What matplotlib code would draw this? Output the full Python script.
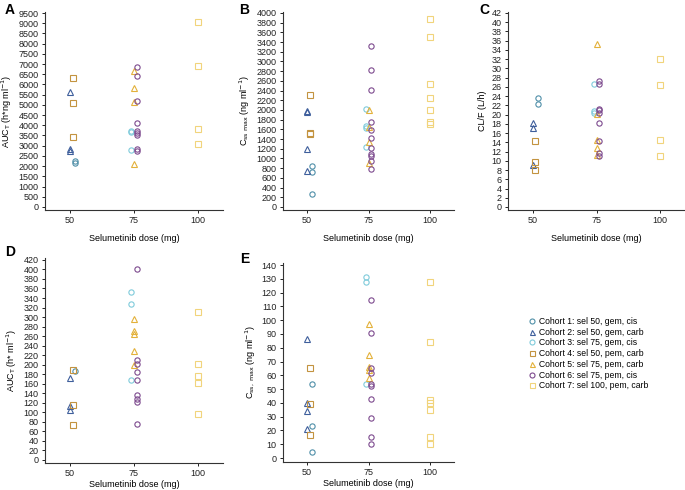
import matplotlib
matplotlib.use("Agg")
import matplotlib.pyplot as plt
from matplotlib.lines import Line2D

plt.rcParams['font.family'] = ['Liberation Sans', 'DejaVu Sans']
plt.rcParams['font.size'] = 6.5

# cohort definitions: label, x position (jittered dose), marker, colour
cohort_labels = ["Cohort 1: sel 50, gem, cis", "Cohort 2: sel 50, gem, carb",
                 "Cohort 3: sel 75, gem, cis", "Cohort 4: sel 50, pem, carb",
                 "Cohort 5: sel 75, pem, carb", "Cohort 6: sel 75, pem, cis",
                 "Cohort 7: sel 100, pem, carb"]
cohort_x = [52, 50, 74, 51, 75, 76, 100]
cohort_markers = ["o", "^", "o", "s", "^", "o", "s"]
cohort_colors = ["#4f8fa8", "#3f5f9c", "#7fcbdb", "#c39340", "#e3b13a", "#7d4a8e", "#f1d47c"]

# panel A: AUC_T selumetinib
auc_sel = [
    [2230, 2130],
    [5650, 2850, 2750],
    [3700, 3650, 2800],
    [6300, 5100, 3450],
    [6650, 5850, 5150, 2100],
    [6880, 6400, 5200, 4100, 3700, 3600, 3500, 2850, 2750],
    [9050, 6900, 3800, 3100],
]
# panel B: Css max selumetinib
cmax_sel = [
    [850, 720, 260],
    [1980, 1960, 1200, 750],
    [2020, 1680, 1620, 1240],
    [2300, 1520, 1500],
    [1990, 1640, 1340, 900],
    [3320, 2830, 2410, 1760, 1580, 1430, 1220, 1100, 1050, 940, 780],
    [3870, 3500, 2530, 2240, 2000, 1760, 1720],
]
# panel C: CL/F
clf = [
    [23.5, 22.3],
    [18.1, 17.2, 9.0],
    [26.7, 20.8, 20.3],
    [14.3, 9.8, 7.9],
    [35.2, 20.2, 14.5, 12.7, 11.3],
    [27.2, 26.6, 21.3, 20.9, 20.3, 18.1, 14.3, 11.7, 11.0],
    [32.1, 26.4, 14.5, 11.1],
]
# panel D: AUC_T metabolite
auc_met = [
    [187],
    [173, 114, 104],
    [352, 328, 168],
    [188, 115, 73],
    [297, 270, 265, 228, 200],
    [400, 209, 202, 184, 168, 136, 128, 121, 76],
    [311, 202, 176, 161, 97],
]
# panel E: Css max metabolite
cmax_met = [
    [54, 23, 4.5],
    [86, 40, 34, 21],
    [131, 128, 54],
    [65, 39, 16.5],
    [97, 75, 66, 64, 58],
    [115, 91, 65, 62, 54, 52, 43, 29, 15, 10],
    [128, 84, 42, 40, 35, 15, 10],
]

W, H = 685, 490
fig = plt.figure(figsize=(W / 100, H / 100), dpi=100)


def make_ax(left, right, top, bottom):
    return fig.add_axes([left / W, 1 - bottom / H, (right - left) / W, (bottom - top) / H])


panels = [
    ("A", make_ax(45, 223, 12, 210), auc_sel, (-150, 9550), range(0, 9501, 500),
     r"AUC$_\mathrm{T}$ (h*ng ml$^{-1}$)", (5, 10), 6),
    ("B", make_ax(283, 454, 12, 210), cmax_sel, (-62, 4020), range(0, 4001, 200),
     r"C$_\mathrm{ss\ max}$ (ng ml$^{-1}$)", (239, 10), 6),
    ("C", make_ax(508, 685, 12, 210), clf, (-0.65, 42.2), range(0, 43, 2),
     "CL/F (L/h)", (479, 10), 6),
    ("D", make_ax(45, 223, 258, 463), auc_met, (-6.3, 424), range(0, 421, 20),
     r"AUC$_\mathrm{T}$ (h* ml$^{-1}$)", (5, 252), 1.5),
    ("E", make_ax(283, 454, 263, 462), cmax_met, (-2.9, 141.5), range(0, 141, 10),
     r"C$_\mathrm{ss,\ max}$ (ng ml$^{-1}$)", (240, 259), 1.5),
]

for letter, ax, data, ylim, yticks, ylabel, lpos, xpad in panels:
    for i, vals in enumerate(data):
        ax.plot([cohort_x[i]] * len(vals), vals, linestyle="none",
                marker=cohort_markers[i], ms=3.8, mfc="none", mec=cohort_colors[i], mew=0.8)
    ax.set_xlim(40.2, 109.8)
    ax.set_ylim(*ylim)
    ax.set_xticks([50, 75, 100])
    ax.set_yticks(list(yticks))
    ax.spines["top"].set_visible(False)
    ax.spines["right"].set_visible(False)
    for s in ("left", "bottom"):
        ax.spines[s].set_linewidth(0.8)
        ax.spines[s].set_color("#333333")
    ax.tick_params(length=2.5, width=0.7, pad=2, labelsize=6.5, colors="#222222")
    ax.set_xlabel("Selumetinib dose (mg)", fontsize=6.5, labelpad=xpad)
    ax.set_ylabel(ylabel, fontsize=6.5, labelpad=3)
    fig.text(lpos[0] / W, 1 - lpos[1] / H, letter, fontsize=10, fontweight="bold",
             ha="left", va="center")

handles = [Line2D([], [], linestyle="none", marker=cohort_markers[i], ms=3.6, mfc="none",
                  mec=cohort_colors[i], mew=0.8, label=cohort_labels[i])
           for i in range(len(cohort_labels))]
fig.legend(handles=handles, loc="upper left", bbox_to_anchor=(529 / W, 1 - 317 / H),
           frameon=False, fontsize=6.2, handlelength=0.8, handletextpad=0.35,
           labelspacing=0.2, borderpad=0, borderaxespad=0)

fig.savefig("out.png", dpi=100)
